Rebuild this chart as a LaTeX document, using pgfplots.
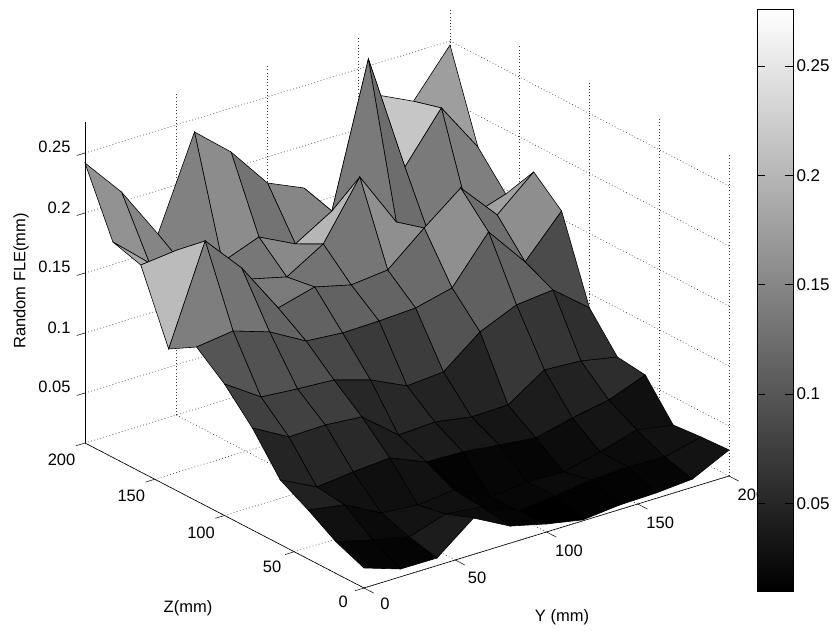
\documentclass[border=0pt]{standalone}
\usepackage{fontspec}
\setmainfont{Liberation Sans}
\usepackage{pgfplots}
\pgfplotsset{compat=1.18}
\pgfplotsset{colormap={bw}{gray(0cm)=(0); gray(1cm)=(1)}}
\newcommand{\lf}{\fontsize{16.5}{18}\selectfont}
\begin{document}
\begin{tikzpicture}[x=1pt,y=1pt]
\useasboundingbox (0,0) rectangle (832,631);
\begin{axis}[
  at={(364pt,43pt)}, anchor=origin,
  x={(1.825pt,0.56pt)}, y={(-1.395pt,0.725pt)}, z={(0pt,1200pt)},
  xmin=0,xmax=200,ymin=0,ymax=200,zmin=0.0083,zmax=0.276,
  clip=false,
  colormap name=bw, point meta min=0.01, point meta max=0.276,
  xtick={0,50,100,150,200}, ytick={0,50,100,150,200},
  ztick={0.05,0.1,0.15,0.2,0.25},
  xticklabels={0,50,100,150,200}, yticklabels={0,50,100,150,200},
  zticklabels={0.05,0.1,0.15,0.2,0.25},
  tick label style={font=\lf},
  xticklabel style={xshift=7pt,yshift=-2pt},
  yticklabel style={xshift=-5pt,yshift=-1pt},
  zticklabel style={xshift=-3pt},
  xtick pos=lower, ytick pos=lower, ztick pos=left,
  tick align=outside, major tick length=9pt,
  tick style={draw=none},
  grid=major, grid style={dash pattern=on 0.8pt off 2.4pt,black!80,line width=0.6pt},
  axis line style={draw=none},
  z buffer=none,
]
\addplot3[surf, shader=flat corner, draw=black, fill=mapped color, line width=0.6pt,
  mesh/rows=11, mesh/cols=11, mesh/ordering=x varies, point meta=\thisrow{m}]
 table[x=x,y=y,z=z] {
x y z m
200 200 .2466 .1737
180 200 .2091 .2156
160 200 .2237 .1757
140 200 .1188 .2751
120 200 .1648 .1485
100 200 .1783 .1287
80 200 .2135 .1547
60 200 .2395 .1432
40 200 .1638 .1476
20 200 .2081 .1611
0 200 .2416 .1879
200 180 .1737 .1416
180 180 .2156 .1368
160 180 .1757 .1228
140 180 .2751 .1363
120 180 .1577 .1981
100 180 .1396 .1516
80 180 .1547 .1335
60 180 .1432 .1411
40 180 .1476 .1455
20 180 .1611 .1840
0 180 .1879 .1808
200 160 .1466 .1771
180 160 .1368 .1506
160 160 .1228 .1824
140 160 .1513 .1584
120 160 .1981 .1327
100 160 .1516 .1296
80 160 .1335 .1372
60 160 .1411 .1291
40 160 .1455 .1717
20 160 .1840 .2036
0 160 .1808 .1229
200 140 .1771 .1566
180 140 .1506 .1235
160 140 .1824 .1578
140 140 .1584 .1205
120 140 .1327 .1131
100 140 .1296 .1116
80 140 .1372 .1110
60 140 .1291 .1136
40 140 .1717 .1305
20 140 .2036 .1406
0 140 .1229 .1366
200 120 .1566 .0879
180 120 .1235 .1122
160 120 .1578 .1091
140 120 .1205 .0959
120 120 .1131 .0719
100 120 .1116 .0696
80 120 .1110 .0839
60 120 .1136 .0932
40 120 .1305 .0951
20 120 .1406 .0977
0 120 .1366 .1179
200 100 .0879 .0591
180 100 .1122 .0651
160 100 .1091 .0670
140 100 .0959 .0471
120 100 .0719 .0465
100 100 .0696 .0516
80 100 .0839 .0501
60 100 .0932 .0745
40 100 .0951 .0771
20 100 .0977 .0765
0 100 .1179 .0933
200 80 .0591 .0562
180 80 .0651 .0447
160 80 .0670 .0391
140 80 .0471 .0317
120 80 .0465 .0352
100 80 .0516 .0387
80 80 .0501 .0397
60 80 .0745 .0524
40 80 .0771 .0501
20 80 .0765 .0469
0 80 .0933 .0621
200 60 .0562 .0266
180 60 .0447 .0318
160 60 .0391 .0228
140 60 .0317 .0155
120 60 .0352 .0165
100 60 .0387 .0133
80 60 .0397 .0285
60 60 .0524 .0253
40 60 .0501 .0280
20 60 .0469 .0440
0 60 .0621 .0491
200 40 .0266 .0287
180 40 .0318 .0214
160 40 .0228 .0224
140 40 .0155 .0209
120 40 .0165 .0169
100 40 .0133 .0137
80 40 .0285 .0264
60 40 .0253 .0299
40 40 .0280 .0201
20 40 .0440 .0269
0 40 .0491 .0346
200 20 .0287 .0300
180 20 .0214 .0151
160 20 .0224 .0128
140 20 .0209 .0121
120 20 .0169 .0091
100 20 .0137 .0150
80 20 .0264 .0226
60 20 .0299 .0386
40 20 .0201 .0146
20 20 .0269 .0148
0 20 .0346 .0250
200 0 .0300 .0300
180 0 .0151 .0151
160 0 .0128 .0128
140 0 .0121 .0121
120 0 .0091 .0091
100 0 .0150 .0150
80 0 .0226 .0226
60 0 .0386 .0386
40 0 .0146 .0146
20 0 .0148 .0148
0 0 .0250 .0250
};
\addplot3[black,line width=0.6pt] coordinates {(0,0,0.0083)(200,0,0.0083)};
\addplot3[black,line width=0.6pt] coordinates {(0,0,0.0083)(0,200,0.0083)};
\addplot3[black,line width=0.6pt] coordinates {(0,200,0.0083)(0,200,0.276)};
\pgfplotsinvokeforeach{0,50,100,150,200}{
  \addplot3[black,line width=0.5pt] coordinates {(#1,0,0.0083)(#1,-7,0.0083)};
  \addplot3[black,line width=0.5pt] coordinates {(0,#1,0.0083)(-5,#1,0.0083)};
}
\pgfplotsinvokeforeach{0.05,0.1,0.15,0.2,0.25}{
  \addplot3[black,line width=0.5pt] coordinates {(0,200,#1)(-4.5,200,#1)};
}
\end{axis}
\begin{axis}[
  at={(757pt,40pt)}, anchor=south west, scale only axis, width=36pt, height=582pt,
  xmin=0,xmax=1,ymin=0.01,ymax=0.276, xtick=\empty,
  ytick={0.05,0.1,0.15,0.2,0.25}, yticklabels={0.05,0.1,0.15,0.2,0.25},
  yticklabel pos=right, tick align=inside, major tick length=8pt,
  tick label style={font=\fontsize{17}{18}\selectfont}, tick style={black,line width=0.5pt},
  axis line style={black,line width=0.7pt},
  colormap name=bw, point meta min=0.01, point meta max=0.276,
  axis on top,
]
\addplot[surf, shader=interp, mesh/rows=2, point meta=y] coordinates {(0,0.01)(1,0.01)
(0,0.276)(1,0.276)};
\end{axis}
\node[font=\lf] at (188,23) {Z(mm)};
\node[font=\lf] at (562,14) {Y (mm)};
\node[font=\lf,rotate=90] at (21,350) {Random FLE(mm)};
\end{tikzpicture}
\end{document}
